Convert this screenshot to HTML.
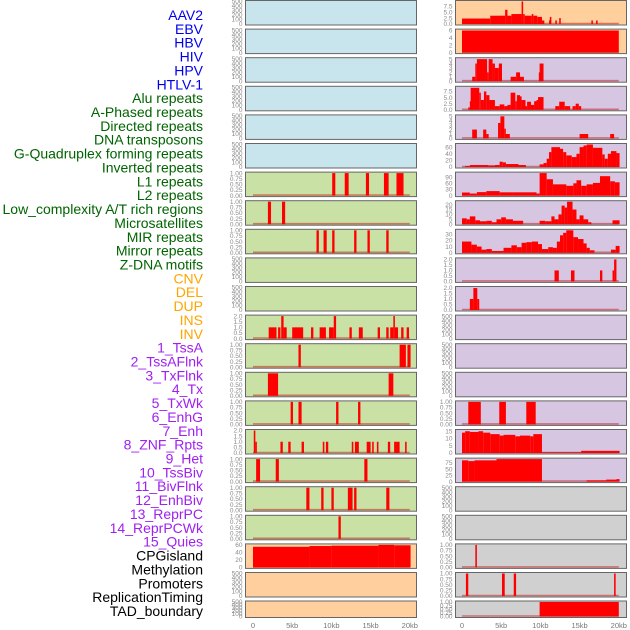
<!DOCTYPE html>
<html><head><meta charset="utf-8"><style>
body{margin:0;background:#fff;width:630px;height:630px;overflow:hidden}
svg{display:block}
.lab{font-family:"Liberation Sans",sans-serif;font-size:14px}
.tk{font-family:"Liberation Sans",sans-serif;font-size:6.5px;fill:#8a8a8a}
.ax{font-family:"Liberation Sans",sans-serif;font-size:7.5px;fill:#777}
</style></head><body>
<svg id="c" width="630" height="630"></svg>
<script>
const labelNames=["AAV2","EBV","HBV","HIV","HPV","HTLV-1","Alu repeats","A-Phased repeats","Directed repeats","DNA transposons","G-Quadruplex forming repeats","Inverted repeats","L1 repeats","L2 repeats","Low_complexity A/T rich regions","Microsatellites","MIR repeats","Mirror repeats","Z-DNA motifs","CNV","DEL","DUP","INS","INV","1_TssA","2_TssAFlnk","3_TxFlnk","4_Tx","5_TxWk","6_EnhG","7_Enh","8_ZNF_Rpts","9_Het","10_TssBiv","11_BivFlnk","12_EnhBiv","13_ReprPC","14_ReprPCWk","15_Quies","CPGisland","Methylation","Promoters","ReplicationTiming","TAD_boundary"];
const labelGroups=[0,0,0,0,0,0,1,1,1,1,1,1,1,1,1,1,1,1,1,2,2,2,2,2,3,3,3,3,3,3,3,3,3,3,3,3,3,3,3,4,4,4,4,4];
const xTicks=[0,5,10,15,20];
const xTickLabels=["0","5kb","10kb","15kb","20kb"];

const T_EMPTY=[0,100,200,300,400,500], T_EMPTY_L=["0","100","200","300","400","500"];
const T_01=[0,0.25,0.5,0.75,1], T_01_L=["0.00","0.25","0.50","0.75","1.00"];
const T_02=[0,0.5,1,1.5,2], T_02_L=["0.0","0.5","1.0","1.5","2.0"];

const L6=[[10.1,10.5,1],[11.7,12.2,1],[14.4,14.8,1],[16.7,17.3,1],[18.3,19.2,1]];
const L7=[[1.9,2.3,1],[3.7,4.1,1]];
const L8=[[8.1,8.4,1],[9.0,9.4,1],[10.1,10.4,1],[12.9,13.2,1],[14.6,14.9,1],[17.0,17.3,1]];
const L11=[[2.0,3.0,1],[3.2,3.5,1],[3.6,3.9,2],[3.9,4.3,1],[5.0,6.4,1],[7.4,7.7,1],[8.5,9.3,1],[9.7,10.3,1],[10.3,10.6,2],[12.3,12.6,1],[13.5,14.0,1],[15.9,16.2,1],[17.0,17.3,1],[17.5,17.9,1],[17.9,18.1,2],[18.1,18.5,1],[18.9,19.2,1],[19.6,19.9,1]];
const L12=[[5.8,6.1,1],[18.7,19.5,1],[19.7,20.1,1]];
const L13=[[1.9,3.2,1],[17.3,17.9,1]];
const L14=[[4.8,5.1,1],[5.8,6.2,1],[10.6,10.9,1],[13.4,13.7,1]];
const L15=[[0.1,0.3,2],[0.3,0.45,1],[3.5,3.8,1],[4.5,4.8,1],[6.2,6.5,1],[8.9,9.1,1],[9.3,9.6,1],[12.6,12.8,1],[13.0,13.5,1],[14.5,15.0,1],[15.2,15.4,1],[15.8,16.0,1],[17.2,17.5,1],[18.0,18.3,1],[18.3,18.7,1],[19.4,19.6,1]];
const L16=[[0.4,0.9,1],[2.9,3.3,1],[14.2,14.6,1]];
const L17=[[6.8,7.2,1],[8.7,9.0,1],[10.0,10.3,1],[12.1,12.7,1],[12.9,13.2,1],[17.0,17.4,1]];
const L18=[[10.9,11.2,1]];
const L19=[[0,7.2,55],[7.2,10,57],[10,16,58],[16,18,60],[18,20.1,59]];

const R0=[[0,3.6,2.3],[3.6,5.5,3.5],[5.5,5.8,6],[5.8,6.3,3.5],[6.3,7.6,4.2],[7.6,7.8,9.5],[7.8,8.0,4.2],[8.0,8.9,3.5],[8.9,9.1,4.2],[9.1,9.6,3.5],[9.6,10.2,3],[10.2,10.5,1.5],[11.1,11.2,1.5],[11.2,11.4,3],[11.9,12.1,1.5],[12.4,12.6,2.5],[16.5,16.7,1.5],[17.1,17.3,1.5]];
const R1=[[0,20,6]];
const R2=[[1.3,1.7,1],[1.7,1.9,4],[1.9,3.2,5],[3.2,3.4,2],[3.4,3.9,5],[3.9,4.2,4],[4.2,4.7,3],[4.7,5.1,4],[6.2,6.9,1],[6.9,7.4,2],[7.4,7.9,1],[9.8,9.9,2],[9.9,10.4,4]];
const R3=[[0.8,1.0,1],[1.0,1.1,3.5],[1.1,2.2,9],[2.2,2.4,7],[2.4,2.8,4],[2.8,3.1,7.5],[3.1,3.5,6],[3.5,4.2,4],[4.2,4.8,1.5],[4.8,5.4,2.2],[5.4,5.8,1.5],[5.8,6.2,2],[6.2,6.8,7],[6.8,7.0,3.5],[7.0,7.4,6],[7.4,7.6,5.5],[7.6,8.1,4],[8.1,8.3,1.5],[8.3,8.8,3.3],[8.8,9.2,2],[9.2,9.5,3.5],[9.5,9.7,4],[9.7,10.4,5.2],[11.9,12.4,1.5],[12.4,13.1,3.3],[13.1,13.8,1.5],[14.1,14.5,1.5],[14.5,14.9,2.5],[14.9,15.2,1.5]];
const R4=[[1.3,1.9,2],[2.7,3.1,2],[3.1,3.4,1],[4.6,4.9,3.5],[4.9,5.4,5],[5.4,5.5,2.2],[5.5,6.1,1],[15.0,16.1,1],[18.9,19.4,1]];
const R5=[[0.4,1.0,3],[1.0,3.35,6],[3.35,4.2,5],[4.2,4.8,6],[4.8,5.2,16],[5.2,5.6,14],[5.6,7.2,9],[7.2,8.15,6],[9.9,10.4,8],[10.4,10.8,12],[10.8,11.1,25],[11.1,11.4,45],[11.4,12.5,60],[12.5,12.9,55],[12.9,13.3,45],[13.3,14.0,35],[14.0,14.6,30],[14.6,15.0,40],[15.0,15.5,60],[15.5,15.9,65],[15.9,16.7,68],[16.7,17.9,58],[17.9,18.2,38],[18.2,18.6,25],[18.6,19.0,40],[19.0,19.7,48],[19.7,20.1,42]];
const R6=[[0,1.0,15],[1.0,1.9,10],[1.9,3.1,17],[3.1,4.8,22],[4.8,6.5,16],[6.5,9.5,16],[9.5,9.9,10],[9.9,10.8,110],[10.8,11.6,80],[11.6,13.3,55],[13.3,14.2,48],[14.2,14.6,60],[14.6,15.2,75],[15.2,15.9,48],[15.9,16.7,55],[16.7,17.6,62],[17.6,18.9,95],[18.9,19.5,70],[19.5,20.1,65]];
const R7=[[0,0.6,6],[0.6,1.0,5],[1.0,1.7,8],[1.7,2.3,4],[2.3,3.1,3],[3.1,3.8,3.5],[3.8,4.4,2],[4.4,5.0,5],[5.0,5.6,7],[5.6,6.5,5],[6.5,7.8,3.5],[9.9,10.6,3.5],[10.6,11.4,3],[11.4,11.8,8],[11.8,12.3,5],[12.3,12.7,10],[12.7,13.1,19],[13.1,13.4,17],[13.4,14.1,23],[14.1,14.6,15],[14.6,15.0,5],[15.0,15.5,9],[15.5,16.1,5],[16.1,16.5,2],[19.2,20.1,4]];
const R8=[[0,1.2,18],[1.2,1.9,13],[1.9,2.5,10],[2.5,3.1,5],[3.1,3.8,6],[3.8,5.3,3],[5.3,6.3,8],[6.3,7.0,12],[7.0,7.6,9],[7.6,8.2,16],[8.2,8.9,17],[8.9,9.7,18],[9.7,10.2,14],[10.2,11.0,6],[11.0,11.6,9],[11.6,12.1,8],[12.1,12.5,18],[12.5,12.9,28],[12.9,13.3,32],[13.3,14.2,36],[14.2,14.8,25],[14.8,15.5,22],[15.5,15.9,15],[15.9,16.3,8],[16.3,16.9,4],[19.0,19.6,5],[19.6,20.1,11]];
const R9=[[11.8,12.35,1],[13.9,14.35,1],[17.6,17.9,1],[19.2,19.4,1],[19.4,19.7,2]];
const R10=[[1.0,1.45,1],[1.45,1.95,2],[1.95,2.2,1]];
const R14=[[0.8,2.4,1],[4.75,5.6,1],[8.2,9.4,1]];
const R15=[[0,0.4,14],[0.4,1.0,15],[1.0,2.1,14.5],[2.1,2.7,15],[2.7,3.6,14],[3.6,4.8,13],[4.8,5.3,12],[5.3,6.8,12.5],[6.8,7.4,11.5],[7.4,8.7,12],[8.7,9.1,11.5],[9.1,10.2,13],[10.2,15.2,0.5],[15.2,20.1,1.5]];
const R16=[[0,0.8,85],[0.8,1.6,82],[1.6,4.4,85],[4.4,10.2,90],[15.9,18.4,5],[18.4,19.7,8],[19.7,20.1,10]];
const R19=[[1.7,1.9,1]];
const R20=[[0.5,0.8,1],[5.1,5.45,1],[6.6,6.9,1],[19.4,19.6,1]];
const R21=[[9.9,20.0,1]];

const BLUE="#c8e4ec",GREEN="#c9e1a5",ORANGE="#ffd09e",PURPLE="#d6c6e2",GRAY="#d0d0d0";
const leftPanels=[
[BLUE,null,500,T_EMPTY,T_EMPTY_L],[BLUE,null,500,T_EMPTY,T_EMPTY_L],[BLUE,null,500,T_EMPTY,T_EMPTY_L],[BLUE,null,500,T_EMPTY,T_EMPTY_L],[BLUE,null,500,T_EMPTY,T_EMPTY_L],[BLUE,null,500,T_EMPTY,T_EMPTY_L],
[GREEN,L6,1,T_01,T_01_L],[GREEN,L7,1,T_01,T_01_L],[GREEN,L8,1,T_01,T_01_L],[GREEN,null,500,T_EMPTY,T_EMPTY_L],[GREEN,null,500,T_EMPTY,T_EMPTY_L],
[GREEN,L11,2,T_02,T_02_L],[GREEN,L12,1,T_01,T_01_L],[GREEN,L13,1,T_01,T_01_L],[GREEN,L14,1,T_01,T_01_L],[GREEN,L15,2,T_02,T_02_L],
[GREEN,L16,1,T_01,T_01_L],[GREEN,L17,1,T_01,T_01_L],[GREEN,L18,1,T_01,T_01_L],[ORANGE,L19,60,[0,20,40,60],["0","20","40","60"]],
[ORANGE,null,500,T_EMPTY,T_EMPTY_L],[ORANGE,null,500,T_EMPTY,T_EMPTY_L]];
const rightPanels=[
[ORANGE,R0,9.5,[0,2.5,5,7.5],["0.0","2.5","5.0","7.5"]],[ORANGE,R1,6.1,[0,2,4,6],["0","2","4","6"]],
[PURPLE,R2,5.1,[0,1,2,3,4,5],["0","1","2","3","4","5"]],[PURPLE,R3,9.2,[0,2.5,5,7.5],["0.0","2.5","5.0","7.5"]],
[PURPLE,R4,5.1,[0,1,2,3,4,5],["0","1","2","3","4","5"]],[PURPLE,R5,68,[0,20,40,60],["0","20","40","60"]],
[PURPLE,R6,110,[0,30,60,90],["0","30","60","90"]],[PURPLE,R7,23,[0,5,10,15,20],["0","5","10","15","20"]],
[PURPLE,R8,36,[0,10,20,30],["0","10","20","30"]],[PURPLE,R9,2.05,T_02,T_02_L],[PURPLE,R10,2.05,T_02,T_02_L],
[PURPLE,null,500,T_EMPTY,T_EMPTY_L],[PURPLE,null,500,T_EMPTY,T_EMPTY_L],[PURPLE,null,500,T_EMPTY,T_EMPTY_L],
[PURPLE,R14,1,T_01,T_01_L],[PURPLE,R15,15.5,[0,5,10,15],["0","5","10","15"]],[PURPLE,R16,90,[0,25,50,75],["0","25","50","75"]],
[GRAY,null,500,T_EMPTY,T_EMPTY_L],[GRAY,null,500,T_EMPTY,T_EMPTY_L],[GRAY,R19,1,T_01,T_01_L],[GRAY,R20,1,T_01,T_01_L],[GRAY,R21,1,T_01,T_01_L]];

const NS="http://www.w3.org/2000/svg";
const svg=document.getElementById('c');
function mk(tag,attrs,parent){const e=document.createElementNS(NS,tag);for(const k in attrs)e.setAttribute(k,attrs[k]);(parent||svg).appendChild(e);return e;}
const groupColors=["#0000ee","#006400","#ffa500","#a020f0","#000000"];
labelNames.forEach((t,i)=>{
  const e=mk('text',{x:203,y:15+i*13.86+5,'text-anchor':'end',class:'lab',fill:groupColors[labelGroups[i]]});
  
  
  e.textContent=t;
});
function rowTop(r){return r<21?r*28.6:600.5;}
function rowH(r){return r<21?24.5:16.5;}
function drawCol(panels,px,x0,side){
  const pw=171,k=7.84;
  const xs=kb=>x0+kb*k;
  panels.forEach((p,r)=>{
    const top=rowTop(r),h=rowH(r);
    const g=mk('g',{});
    
    
    mk('rect',{x:px,y:top+0.5,width:pw,height:h,fill:p[0],stroke:'#666','stroke-width':1},g);
    const y0=top+h-0.5,yt=top+1.5;
    const ys=v=>y0-(v/p[2])*(y0-yt);
    p[3].forEach((tv,i)=>{
      const t=mk('text',{x:px-3,y:ys(tv)+2.2,'text-anchor':'end',class:'tk'},g);
      
      
      t.textContent=p[4][i];
    });
    if(p[1]){
      mk('line',{x1:xs(0),x2:xs(20),y1:y0-0.5,y2:y0-0.5,stroke:'rgba(190,0,0,0.45)','stroke-width':1.6},g);
      p[1].forEach(d=>{
        const x1=xs(d[0]),x2=xs(d[1]);
        const b=mk('rect',{x:x1,y:ys(d[2]),width:Math.max(1.5,x2-x1),height:Math.max(0,y0-ys(d[2])),fill:'#ff0000'},g);
        
        
      });
    }
  });
  xTicks.forEach((v,i)=>{
    const t=mk('text',{x:xs(v),y:628,'text-anchor':'middle',class:'ax'});
    
    
    t.textContent=xTickLabels[i];
  });
}
drawCol(leftPanels,245.5,253,'left');
drawCol(rightPanels,455.5,462,'right');
</script>
</body></html>
